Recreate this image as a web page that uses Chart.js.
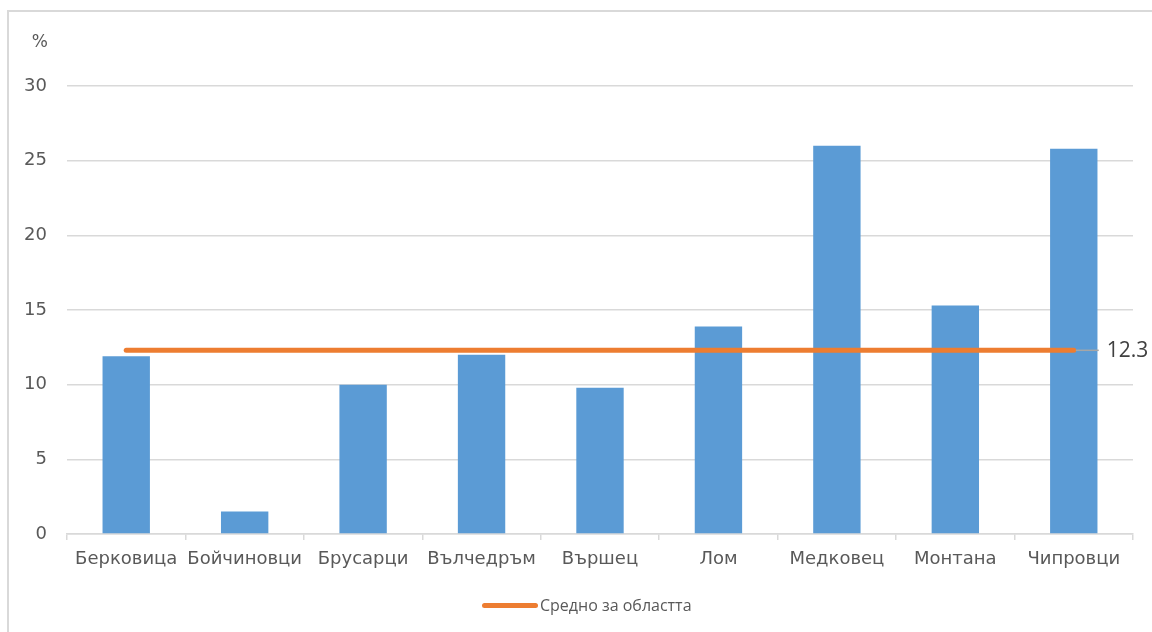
<!DOCTYPE html>
<html>
<head>
<meta charset="utf-8">
<script src="https://cdn.jsdelivr.net/npm/chart.js@4/dist/chart.umd.min.js"></script>
<style>
  html, body { margin: 0; padding: 0; background: #fff; overflow: hidden; }
  #frame { position: absolute; left: 7px; top: 10px; width: 1160px; height: 640px; border: 2px solid #d9d9d9; box-sizing: border-box; }
  #wrap { position: absolute; left: 0; top: 0; width: 1152px; height: 632px; }
  #legend { position: absolute; left: 482px; top: 594px; font: 16px "Open Sans", "Liberation Sans", sans-serif; color: #595959; display: flex; align-items: center; }
  #legend span.swatch { display: inline-block; width: 56px; height: 5px; border-radius: 3px; background: #ED7D31; margin-right: 2px; }
</style>
</head>
<body>
<div id="frame"></div>
<div id="wrap"><canvas id="chart" width="1152" height="632"></canvas></div>
<div id="legend"><span class="swatch"></span><span>Средно за областта</span></div>
<script>
// данни
const categories = ['Берковица', 'Бойчиновци', 'Брусарци', 'Вълчедръм', 'Вършец', 'Лом', 'Медковец', 'Монтана', 'Чипровци'];
const values = [11.9, 1.5, 10.0, 12.0, 9.8, 13.9, 26.0, 15.3, 25.8];
const average = 12.3;
const yTicks = [0, 5, 10, 15, 20, 25, 30];

const tickFont = { family: '"DejaVu Sans", Verdana, sans-serif', size: 18 };

// надпис "%" и етикет на средната линия
const extras = {
    id: 'extras',
    afterDatasetsDraw(chart) {
        const { ctx, scales } = chart;
        const meta = chart.getDatasetMeta(1);
        const last = meta.data[meta.data.length - 1];
        const y = scales.y.getPixelForValue(average);
        ctx.save();
        ctx.strokeStyle = '#a6a6a6';
        ctx.lineWidth = 1.5;
        ctx.beginPath();
        ctx.moveTo(last.x + 2, y);
        ctx.lineTo(last.x + 25, y);
        ctx.stroke();
        ctx.fillStyle = '#404040';
        ctx.font = '21px "Open Sans", "Liberation Sans", sans-serif';
        ctx.textBaseline = 'middle';
        ctx.fillText(average.toFixed(1), last.x + 33, y + 1);
        ctx.fillStyle = '#595959';
        ctx.font = '17px "DejaVu Sans", sans-serif';
        ctx.textAlign = 'right';
        ctx.fillText('%', 48, 43);
        ctx.restore();
    }
};

new Chart(document.getElementById('chart'), {
    data: {
        labels: categories,
        datasets: [
            {
                type: 'bar',
                label: 'Общини',
                data: values,
                backgroundColor: '#5B9BD5',
                categoryPercentage: 1,
                barPercentage: 0.4,
                order: 1,
            },
            {
                type: 'line',
                label: 'Средно за областта',
                data: categories.map(() => average),
                borderColor: '#ED7D31',
                borderWidth: 5,
                borderCapStyle: 'round',
                pointRadius: 0,
                fill: false,
                order: 0,
            },
        ],
    },
    options: {
        responsive: false,
        animation: false,
        layout: { padding: { left: 0, top: 86, right: 19, bottom: 58 } },
        plugins: { legend: { display: false }, tooltip: { enabled: false } },
        scales: {
            x: {
                offset: true,
                grid: { offset: true, drawOnChartArea: false, drawTicks: true, tickLength: 6, color: '#d9d9d9', lineWidth: 1.5 },
                border: { color: '#d9d9d9', width: 1.5 },
                ticks: { font: tickFont, color: '#595959', padding: 9, maxRotation: 0, autoSkip: false },
                afterFit(scale) { scale.height = 40; },
            },
            y: {
                min: 0,
                max: 30,
                afterBuildTicks(scale) { scale.ticks = yTicks.map(v => ({ value: v })); },
                grid: { drawTicks: false, color: '#d9d9d9', lineWidth: 1.5 },
                border: { display: false },
                ticks: { font: tickFont, color: '#595959', padding: 20 },
                afterFit(scale) { scale.width = 67; },
            },
        },
    },
    plugins: [extras],
});
</script>
</body>
</html>
